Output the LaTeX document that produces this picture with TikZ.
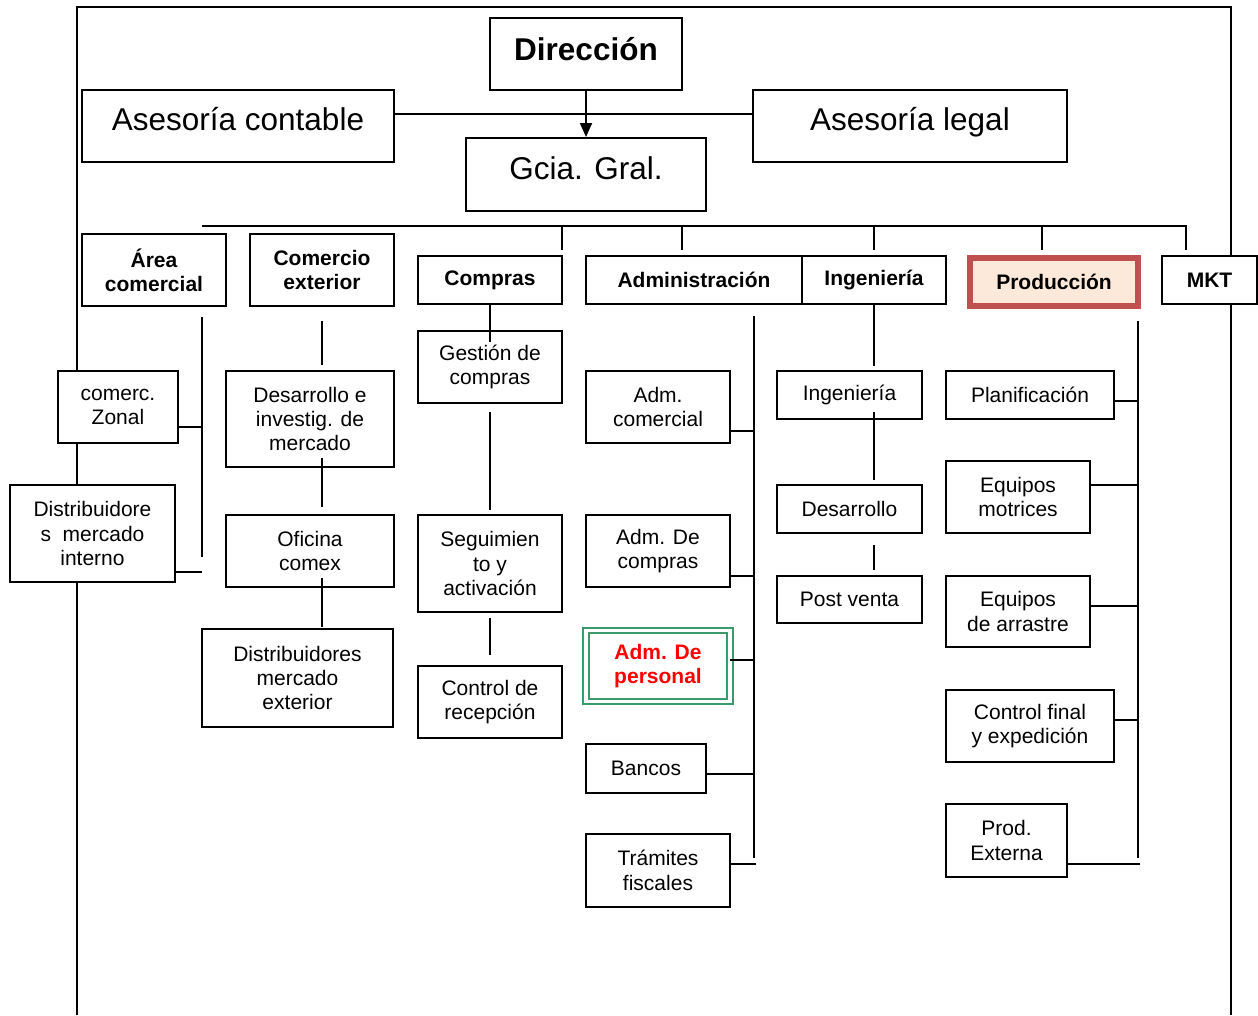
\documentclass[tikz,border=0pt]{standalone}
\usepackage{fontspec}
\setmainfont{Liberation Sans}
\usetikzlibrary{arrows.meta}
\definecolor{prodred}{HTML}{C0504D}
\definecolor{prodfill}{HTML}{FDE9D9}
\definecolor{persgreen}{HTML}{3A9A6C}
\begin{document}
\begin{tikzpicture}[x=1pt,y=-1pt,
  unit/.style={draw, line width=2pt, fill=white, inner sep=0pt, align=center,
    font=\fontsize{21}{24.3}\selectfont},
  head/.style={unit, font=\fontsize{21}{24.3}\selectfont\bfseries},
  big/.style={unit, font=\fontsize{31.5}{36}\selectfont, text height=24pt, text depth=14.4pt},
  sz/.style 2 args={minimum width=#1pt, minimum height=#2pt},
  wire/.style={line width=2pt}]
\useasboundingbox (0,0) rectangle (1258,1015);

% outer frame, open at the bottom
\draw[line width=2.5pt] (77,1015) -- (77,7) -- (1231,7) -- (1231,1015);

% top management
\node[big, font=\fontsize{31.5}{36}\selectfont\bfseries, text depth=11pt, sz={192}{72}] (dir) at (586,54) {Dirección};
\node[big, sz={312}{72}] (ascont) at (238,126) {Asesoría contable};
\node[big, sz={314}{72}] (aslegal) at (910,126) {Asesoría legal};
\node[big, sz={240}{73}] (gcia) at (586,174.5) {Gcia. Gral.};

% departments
\node[head, sz={144}{72}] (area) at (154,270) {Área\\comercial};
\node[head, sz={144}{72}] (comex) at (322,270) {Comercio\\exterior};
\node[head, sz={144}{48}] (compras) at (490,280) {Compras};
\node[head, sz={216}{48}] (admin) at (694,280) {Administración};
\node[head, sz={144}{48}] (ing) at (874,280) {Ingeniería};
\node[head, draw=prodred, fill=prodfill, line width=6pt, sz={168}{48}] (prod) at (1054,282) {Producción};
\node[head, sz={95}{48}] (mkt) at (1209.5,280) {MKT};

% Área comercial units
\node[unit, sz={120}{72}] (zonal) at (118,407) {comerc.\\Zonal};
\node[unit, sz={165}{97}] (distint) at (92.5,533.5) {Distribuidore\\s~~mercado\\interno};

% Comercio exterior units
\node[unit, sz={168}{96}] (desinv) at (310,419) {Desarrollo e\\investig. de\\mercado};
\node[unit, sz={168}{72}] (oficina) at (310,551) {Oficina\\comex};
\node[unit, sz={191}{98}] (distext) at (297.5,678) {Distribuidores\\mercado\\exterior};

% Compras units
\node[unit, sz={144}{72}] (gestion) at (490,367) {Gestión de\\compras};
\node[unit, sz={144}{97}] (seguim) at (490,563.5) {Seguimien\\to y\\activación};
\node[unit, sz={144}{72}] (recep) at (490,702) {Control de\\recepción};

% Administración units
\node[unit, sz={144}{72}] (admcom) at (658,407) {Adm.\\comercial};
\node[unit, sz={144}{72}] (admcpr) at (658,551) {Adm. De\\compras};
\node[unit, draw=persgreen, double=white, double distance=3.5pt, sz={144}{71},
  text=red, font=\fontsize{21}{24.3}\selectfont\bfseries] (admpers) at (658,666) {Adm. De\\personal};
\node[unit, sz={120}{49}] (bancos) at (646,768.5) {Bancos};
\node[unit, sz={144}{73}] (tramites) at (658,870.5) {Trámites\\fiscales};

% Ingeniería units
\node[unit, sz={145}{48}] (ingsub) at (849.5,395) {Ingeniería};
\node[unit, sz={145}{48}] (desarr) at (849.5,509) {Desarrollo};
\node[unit, sz={145}{47}] (postv) at (849.5,599.5) {Post venta};

% Producción units
\node[unit, sz={168}{48}] (planif) at (1030,395) {Planificación};
\node[unit, sz={144}{72}] (eqmot) at (1018,497) {Equipos\\motrices};
\node[unit, sz={144}{71}] (eqarr) at (1018,611.5) {Equipos\\de arrastre};
\node[unit, sz={168}{72}] (ctrlfin) at (1030,726) {Control final\\y expedición};
\node[unit, sz={121}{73}] (prodext) at (1006.5,840.5) {Prod.\\Externa};

% connectors of the top level
\draw[wire] ([yshift=12pt]ascont.east) -- ([yshift=12pt]aslegal.west);
\draw[wire, -{Triangle[length=14pt,width=12pt]}] (dir.south) -- (gcia.north);

% department bus
\coordinate (busL) at (202,226);
\coordinate (busR) at (1186,226);
\coordinate (mktTick) at (1186,250);
\draw[wire] (busL) -- (busR) -- (mktTick);
\foreach \xx/\nm in {562/compras,682/admin,874/ing,1042/prod}{
  \coordinate (t\nm) at (\xx,226);
  \draw[wire] (t\nm) -- ++(0,24);
}

% Área comercial column
\coordinate (acTop) at (202,317);
\coordinate (acBot) at (202,557);
\coordinate (acZ) at (202,427);
\coordinate (acD) at (202,572);
\draw[wire] (acTop) -- (acBot);
\draw[wire] (zonal.east |- acZ) -- (acZ);
\draw[wire] (distint.east |- acD) -- (acD);

% Comercio exterior column
\coordinate (ceA1) at (322,321); \coordinate (ceA2) at (322,365);
\coordinate (ceB1) at (322,458); \coordinate (ceB2) at (322,507);
\coordinate (ceC1) at (322,578); \coordinate (ceC2) at (322,627);
\draw[wire] (ceA1) -- (ceA2);
\draw[wire] (ceB1) -- (ceB2);
\draw[wire] (ceC1) -- (ceC2);

% Compras column
\coordinate (coA) at (490,342);
\coordinate (coB1) at (490,412); \coordinate (coB2) at (490,510);
\coordinate (coC1) at (490,618); \coordinate (coC2) at (490,655);
\draw[wire] (compras.south) -- (coA);
\draw[wire] (coB1) -- (coB2);
\draw[wire] (coC1) -- (coC2);

% Administración column
\coordinate (adTop) at (754,316);
\coordinate (adBot) at (754,858);
\draw[wire] (adTop) -- (adBot);
\coordinate (ad1) at (754,431);
\coordinate (ad2) at (754,576);
\coordinate (ad3) at (754,660);
\coordinate (ad4) at (754,774);
\coordinate (ad5) at (756,864);
\draw[wire] (admcom.east |- ad1) -- (ad1);
\draw[wire] (admcpr.east |- ad2) -- (ad2);
\draw[wire] ([xshift=-1pt]admpers.east |- ad3) -- (ad3);
\draw[wire] (bancos.east |- ad4) -- (ad4);
\draw[wire] (tramites.east |- ad5) -- (ad5);

% Ingeniería column
\coordinate (inA) at (874,366);
\coordinate (inB1) at (874,412); \coordinate (inB2) at (874,480);
\coordinate (inC1) at (874,545); \coordinate (inC2) at (874,570);
\draw[wire] (ing.south) -- (inA);
\draw[wire] (inB1) -- (inB2);
\draw[wire] (inC1) -- (inC2);

% Producción column
\coordinate (prTop) at (1138,321);
\coordinate (prBot) at (1138,858);
\draw[wire] (prTop) -- (prBot);
\coordinate (pr1) at (1138,401);
\coordinate (pr2) at (1138,485);
\coordinate (pr3) at (1138,606);
\coordinate (pr4) at (1138,720);
\coordinate (pr5) at (1140,864);
\draw[wire] (planif.east |- pr1) -- (pr1);
\draw[wire] (eqmot.east |- pr2) -- (pr2);
\draw[wire] (eqarr.east |- pr3) -- (pr3);
\draw[wire] (ctrlfin.east |- pr4) -- (pr4);
\draw[wire] (prodext.east |- pr5) -- (pr5);
\end{tikzpicture}
\end{document}
